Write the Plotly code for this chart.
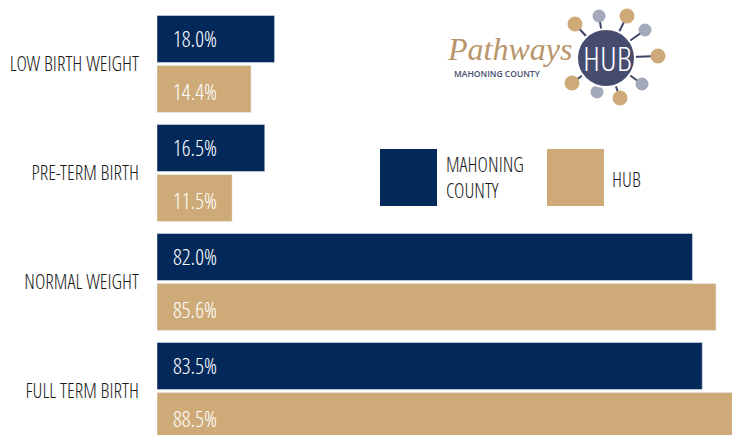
import plotly.graph_objects as go

categories = ["LOW BIRTH WEIGHT", "PRE-TERM BIRTH", "NORMAL WEIGHT", "FULL TERM BIRTH"]
mahoning = [18.0, 16.5, 82.0, 83.5]
hub = [14.4, 11.5, 85.6, 88.5]
series_names = ["MAHONING<br>COUNTY", "HUB"]

NAVY = "#03295b"
TAN = "#cdaa77"
FONT = "Open Sans Condensed Light, Roboto Condensed, sans-serif"

OFF = 8            # page body margin
W, H = 732, 427    # figure size so that the figure ends at the window edge
L = 149            # left margin (plot starts at page x = 157)

def px(x):
    """page pixel x -> paper x"""
    return (x - OFF - L) / (W - L)

def py(y):
    """page pixel y -> paper y"""
    return 1 - (y - OFF) / H

fig = go.Figure()
fig.add_trace(go.Bar(y=categories, x=mahoning, orientation="h", marker_color=NAVY,
                     name="MAHONING COUNTY", showlegend=False))
fig.add_trace(go.Bar(y=categories, x=hub, orientation="h", marker_color=TAN,
                     name="HUB", showlegend=False))

annotations = []
for cat, v in zip(categories, mahoning):
    annotations.append(dict(x=0, y=cat, xref="x", yref="y", text=f"{v:.1f}%", showarrow=False,
                            xanchor="left", xshift=14, yshift=26.5,
                            font=dict(family=FONT, size=22, color="white")))
for cat, v in zip(categories, hub):
    annotations.append(dict(x=0, y=cat, xref="x", yref="y", text=f"{v:.1f}%", showarrow=False,
                            xanchor="left", xshift=14, yshift=-26.5,
                            font=dict(family=FONT, size=22, color="white")))

shapes = []
# legend squares
shapes.append(dict(type="rect", xref="paper", yref="paper", x0=px(380), x1=px(437), y0=py(206), y1=py(149),
                   fillcolor=NAVY, line_width=0))
shapes.append(dict(type="rect", xref="paper", yref="paper", x0=px(547), x1=px(604), y0=py(206), y1=py(149),
                   fillcolor=TAN, line_width=0))
annotations.append(dict(x=px(444), y=py(177), xref="paper", yref="paper", text=series_names[0],
                        showarrow=False, xanchor="left", yanchor="middle", align="left",
                        font=dict(family=FONT, size=20, color="#1a1a1a")))
annotations.append(dict(x=px(610), y=py(179), xref="paper", yref="paper", text=series_names[1],
                        showarrow=False, xanchor="left", yanchor="middle", align="left",
                        font=dict(family=FONT, size=20, color="#1a1a1a")))

# logo
cx, cy, r = 606, 58, 29
sats = [(575, 24, TAN), (599, 16, "#a3a8bb"), (627, 16, TAN), (645, 30, "#a3a8bb"), (658, 56, TAN),
        (642, 84, "#a3a8bb"), (620, 98, TAN), (597, 92, "#a3a8bb"), (572, 83, TAN)]
for sx, sy, c in sats:
    shapes.append(dict(type="line", xref="paper", yref="paper", x0=px(cx), y0=py(cy), x1=px(sx), y1=py(sy),
                       line=dict(color="#3d4466", width=2)))
for sx, sy, c in sats:
    rr = 7.5 if c == TAN else 6.5
    shapes.append(dict(type="circle", xref="paper", yref="paper", x0=px(sx - rr), x1=px(sx + rr),
                       y0=py(sy + rr), y1=py(sy - rr), fillcolor=c, line_width=0))
shapes.append(dict(type="circle", xref="paper", yref="paper", x0=px(cx - r), x1=px(cx + r),
                   y0=py(cy + r), y1=py(cy - r), fillcolor="#454c6e", line=dict(color="white", width=2)))
annotations.append(dict(x=px(cx + 1), y=py(cy), xref="paper", yref="paper", text="HUB", showarrow=False,
                        xanchor="center", yanchor="middle",
                        font=dict(family=FONT, size=34, color="white")))
annotations.append(dict(x=px(574), y=py(49), xref="paper", yref="paper", text="<i>Pathways</i>", showarrow=False,
                        xanchor="right", yanchor="middle",
                        font=dict(family="Liberation Serif, DejaVu Serif, serif", size=32, color="#b8966a")))
annotations.append(dict(x=px(452), y=py(74), xref="paper", yref="paper", text="MAHONING COUNTY", showarrow=False,
                        xanchor="left", yanchor="middle",
                        font=dict(family="Open Sans, sans-serif", size=8.5, weight=600, color="#454c6e")))

fig.update_layout(
    width=W, height=H,
    margin=dict(l=L, r=0, t=0, b=0, autoexpand=False),
    plot_bgcolor="white", paper_bgcolor="white",
    barmode="group", bargap=9 / 109, bargroupgap=0.06,
    xaxis=dict(range=[0, 583 / 6.53], visible=False, showgrid=False, zeroline=False),
    yaxis=dict(range=[(H - (64 - OFF)) / 109, -(64 - OFF) / 109], showgrid=False, zeroline=False,
               showline=False, ticks="", ticklabelstandoff=17, automargin=False,
               tickfont=dict(family=FONT, size=20, color="#1a1a1a")),
    shapes=shapes, annotations=annotations,
    showlegend=False,
)

fig.write_html("out.html")
